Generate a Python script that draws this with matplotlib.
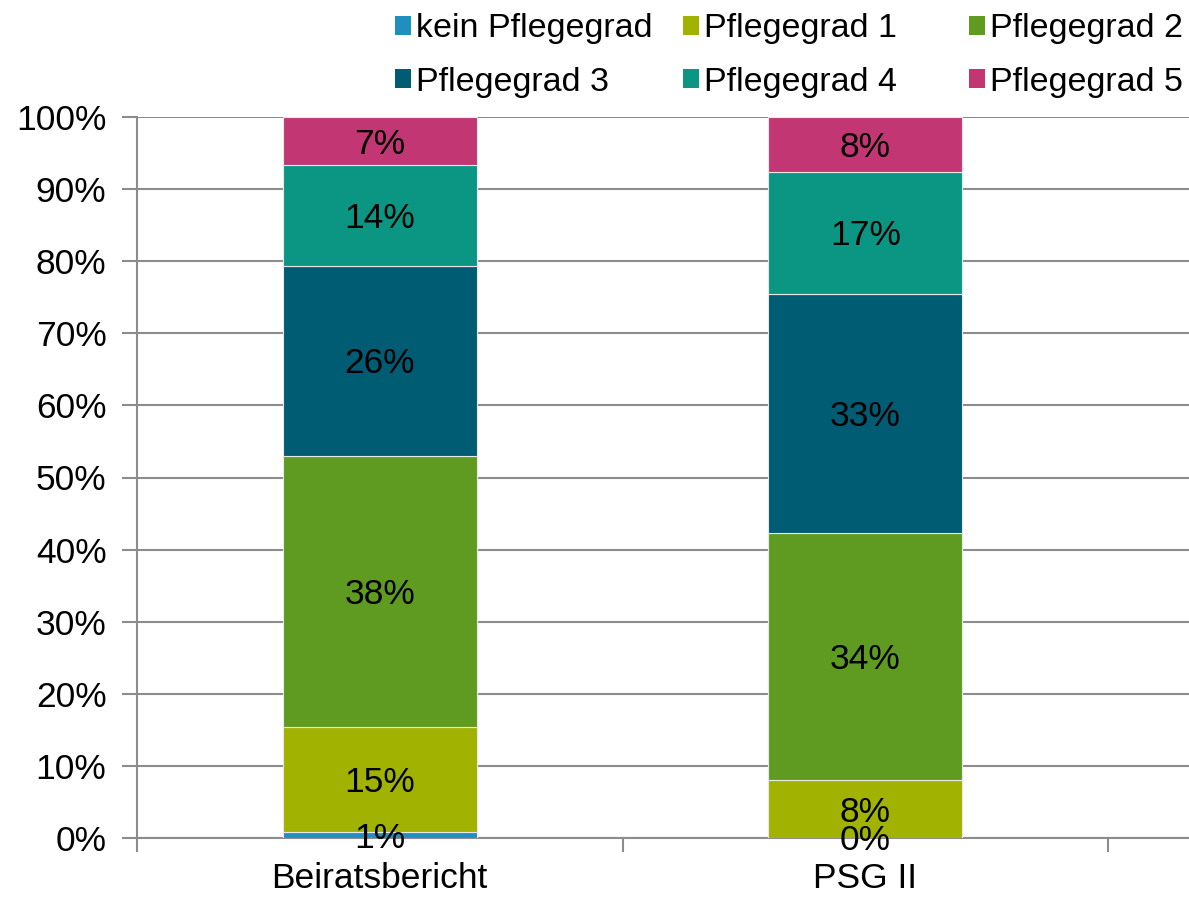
import matplotlib
matplotlib.use('Agg')
import matplotlib.pyplot as plt
from matplotlib.patches import Patch
import numpy as np

plt.rcParams['font.family'] = ['Liberation Sans', 'DejaVu Sans']

# Daten
categories = ['Beiratsbericht', 'PSG II']
series = ['kein Pflegegrad', 'Pflegegrad 1', 'Pflegegrad 2',
          'Pflegegrad 3', 'Pflegegrad 4', 'Pflegegrad 5']
kein = [0.8, 0.0]
pg1 = [14.6, 8.0]
pg2 = [37.6, 34.3]
pg3 = [26.3, 33.1]
pg4 = [14.0, 17.0]
pg5 = [6.7, 7.6]
colors = ['#1f8fbf', '#a2b200', '#5f9b21', '#005c73', '#0a9683', '#c23773']

values = [kein, pg1, pg2, pg3, pg4, pg5]

fig = plt.figure(figsize=(11.89, 8.98), dpi=100)
ax = fig.add_axes([137 / 1189, 60 / 898, 1 - 137 / 1189, (838 - 117) / 898])

x = np.arange(len(categories))
bottom = np.zeros(len(categories))
fs = 25.5
for vals, col in zip(values, colors):
    vals = np.array(vals)
    ax.bar(x, vals, width=0.4, bottom=bottom, color=col,
           edgecolor='#e8e8e8', linewidth=0.8, zorder=3)
    for xi, b, v in zip(x, bottom, vals):
        ax.text(xi, b + v / 2 - 0.4, '%.0f%%' % v, ha='center', va='center',
                fontsize=fs, color='black', zorder=4)
    bottom += vals

ax.set_ylim(0, 100)
ax.set_xlim(-0.5, -0.5 + (1189 - 137) / 485.5)
ax.set_yticks(np.arange(0, 101, 10))
ax.set_yticklabels(['%d%%' % v for v in range(0, 101, 10)], fontsize=fs)
ax.yaxis.grid(True, color='#8c8c8c', linewidth=1.5, zorder=0)
ax.tick_params(axis='y', length=11, width=1.5, color='#8c8c8c', pad=11)

ax.set_xticks(x)
ax.set_xticklabels(categories, fontsize=fs)
ax.set_xticks([-0.5, 0.5, 1.5], minor=True)
ax.tick_params(axis='x', which='major', length=0, pad=17)
ax.tick_params(axis='x', which='minor', length=10, width=1.5, color='#8c8c8c')

for s in ['top', 'right']:
    ax.spines[s].set_visible(False)
for s in ['left', 'bottom']:
    ax.spines[s].set_color('#8c8c8c')
    ax.spines[s].set_linewidth(1.5)

# Legende: drei Spalten gleicher Breite
handles = [Patch(facecolor=c, label=l) for c, l in zip(colors, series)]
col_x = [392, 680, 966]
for k in range(3):
    idx = [k, k + 3]
    fig.legend([handles[i] for i in idx], [series[i] for i in idx],
               loc='upper left', bbox_to_anchor=(col_x[k] / 1189, 1 - 10 / 898),
               frameon=False, fontsize=24.5, handlelength=0.45, handleheight=0.5,
               handletextpad=0.15, labelspacing=0.66, borderaxespad=0.0,
               borderpad=0.1)

fig.savefig('out.png', dpi=100)
